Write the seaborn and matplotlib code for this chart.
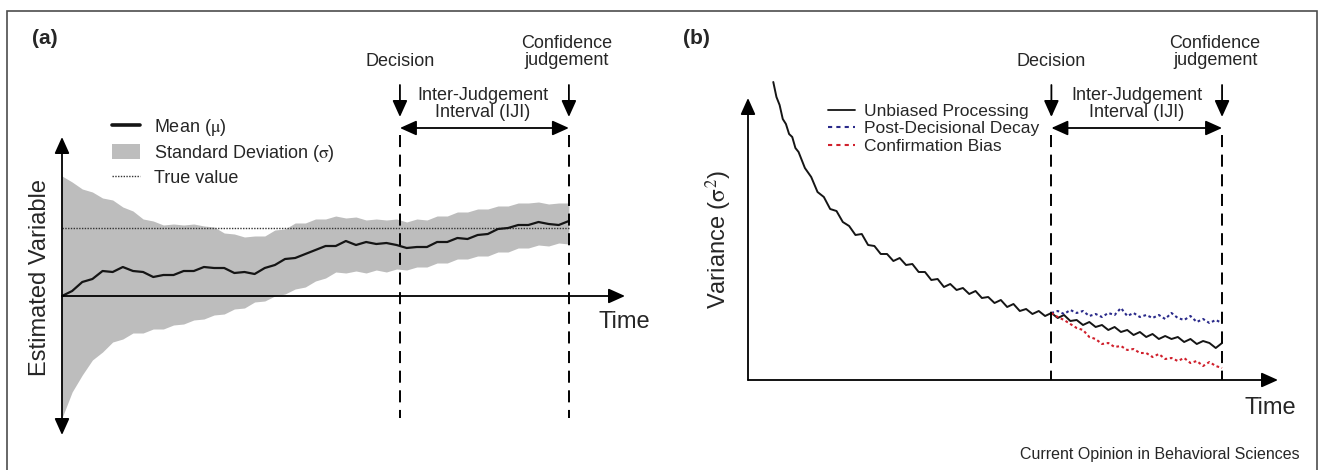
import matplotlib
matplotlib.use("Agg")
import matplotlib.pyplot as plt
import seaborn as sns
from matplotlib.lines import Line2D
from matplotlib.patches import Patch, Rectangle

# ------------------------------------------------------------
# data (arbitrary units)
# ------------------------------------------------------------
# panel (a): estimated variable over time
time_a = [0, 3, 6, 9, 12, 15, 18, 21, 24, 27, 30, 33, 36, 39, 42, 45, 48, 51, 54, 57,
          60, 63, 66, 69, 72, 75, 78, 81, 84, 87, 90, 93, 96, 99, 102, 105, 108, 111, 114, 117,
          120, 123, 126, 129, 132, 135, 138, 141, 144, 147, 150]
mean_a = [0, 5, 14, 17, 25, 24, 29, 25, 24, 19, 21, 21, 25, 25, 29, 28, 28, 23, 24, 22,
          28, 31, 37, 38, 42, 46, 50, 50, 55, 51, 54, 52, 53, 51, 48, 49, 49, 54, 54, 58,
          57, 61, 62, 67, 68, 71, 71, 74, 72, 71, 75]
upper_a = [120, 114, 107, 104, 98, 96, 89, 85, 77, 75, 71, 72, 71, 72, 70, 69, 63, 62, 59, 60,
           60, 66, 67, 73, 73, 77, 77, 80, 78, 79, 76, 77, 76, 77, 74, 77, 76, 80, 80, 84,
           84, 87, 87, 90, 90, 93, 93, 94, 92, 93, 93]
lower_a = [-122, -96, -79, -64, -56, -46, -43, -37, -37, -33, -33, -29, -28, -24, -23, -19, -18, -13, -12, -6,
           -5, 0, 2, 7, 9, 15, 18, 24, 23, 25, 23, 26, 24, 27, 26, 29, 29, 33, 33, 37,
           37, 40, 40, 44, 44, 48, 48, 51, 50, 53, 52]
true_value = 68
decision_a, confidence_a = 100, 150

# panel (b): variance over time
time_b = [8, 9, 10, 11, 12, 13, 14, 15, 16, 18, 20, 22, 24, 26, 28, 30, 32, 34, 36, 38,
          40, 42, 44, 46, 48, 50, 52, 54, 56, 58, 60, 62, 64, 66, 68, 70, 72, 74, 76, 78,
          80, 82, 84, 86, 88, 90, 92, 94, 96, 98, 100, 102, 104, 106, 108, 110, 112, 114, 116, 118,
          120, 122, 124, 126, 128, 130, 132, 134, 136, 138, 140, 142, 144, 146, 148, 150]
var_unbiased = [298, 283, 275, 261, 256, 246, 243, 232, 228, 212, 203, 188, 183, 171, 169, 158, 154, 145, 146, 135,
                134, 126, 126, 119, 122, 115, 116, 108, 108, 100, 101, 93, 96, 90, 92, 86, 89, 82, 83, 77,
                80, 73, 76, 69, 71, 66, 69, 64, 67, 62, 65, 59, 60, 55, 58, 53, 55, 50, 53, 48,
                50, 45, 48, 43, 46, 41, 44, 41, 43, 38, 41, 36, 39, 37, 32, 37]
time_post = [96, 98, 100, 102, 104, 106, 108, 110, 112, 114, 116, 118, 120, 122, 124, 126, 128, 130,
             132, 134, 136, 138, 140, 142, 144, 146, 148, 150]
var_decay = [67, 69, 66, 70, 67, 69, 64, 66, 63, 67, 65, 72, 64, 67, 63, 65, 62, 65,
             61, 67, 62, 60, 64, 58, 61, 57, 60, 57]
var_confirm = [67, 63, 60, 56, 52, 50, 43, 41, 36, 37, 33, 34, 30, 31, 27, 27, 23, 26,
               21, 22, 19, 22, 17, 19, 14, 18, 14, 12]
decision_b, confidence_b = 96, 150

# ------------------------------------------------------------
# styling
# ------------------------------------------------------------
sns.set_theme(style="white")
plt.rcParams['font.family'] = ['Liberation Sans', 'DejaVu Sans']
plt.rcParams['mathtext.fontset'] = 'stix'

W, H = 1319, 470
fig = plt.figure(figsize=(W / 100, H / 100), dpi=100)
fig.patch.set_facecolor('white')

# thin frame round the whole figure
fig.patches.append(Rectangle((7 / W, -0.02), 1310 / W, 1 - 11 / H + 0.02, transform=fig.transFigure,
                             fill=False, edgecolor='#4d4d4d', lw=1.2))

TXT = 13


def arrow(ax, start, end, style='-|>'):
    ax.annotate('', xy=end, xytext=start, annotation_clip=False,
                arrowprops=dict(arrowstyle=style + ',head_length=1.0,head_width=0.45',
                                color='black', lw=1.3, shrinkA=0, shrinkB=0,
                                mutation_scale=10))


def markers(ax, t_dec, t_conf, v_line_top, v_line_bot, v_arr_top, v_arr_tip, v_iji,
            v_dec_txt, v_conf_txt, v_iji_txt, t_conf_txt, t_iji_txt):
    dash = dict(color='black', lw=1.4, dashes=(6.2, 3.9), clip_on=False)
    ax.plot([t_dec, t_dec], [v_line_top, v_line_bot], **dash)
    ax.plot([t_conf, t_conf], [v_line_top, v_line_bot], **dash)
    arrow(ax, (t_dec, v_arr_top), (t_dec, v_arr_tip))
    arrow(ax, (t_conf, v_arr_top), (t_conf, v_arr_tip))
    arrow(ax, (t_dec, v_iji), (t_conf, v_iji), style='<|-|>')
    ax.text(t_dec, v_dec_txt, 'Decision', ha='center', va='center', fontsize=TXT)
    ax.text(t_conf_txt, v_conf_txt, 'Confidence\njudgement', ha='center', va='center',
            fontsize=TXT, linespacing=1.05)
    ax.text(t_iji_txt, v_iji_txt, 'Inter-Judgement\nInterval (IJI)', ha='center', va='center',
            fontsize=TXT, linespacing=1.05)


# ------------------------------------------------------------
# panel (a)   1 unit of time = 3.38 px, 1 unit of value = 1 px
# ------------------------------------------------------------
ax_a = fig.add_axes([62 / W, (H - 435) / H, 563 / W, 298 / H])
ax_a.set_xlim(0, 166.6)
ax_a.set_ylim(-139, 159)
ax_a.axis('off')

ax_a.fill_between(time_a, lower_a, upper_a, color='#bdbdbd', lw=0)
sns.lineplot(x=[0, confidence_a], y=[true_value, true_value], ax=ax_a, color='#333333',
             lw=1.0, linestyle=(0, (1, 1)))
sns.lineplot(x=time_a, y=mean_a, ax=ax_a, color='#151515', lw=1.6)

arrow(ax_a, (0, 0), (0, 159))
arrow(ax_a, (0, 0), (0, -139))
arrow(ax_a, (0, 0), (166.6, 0))
markers(ax_a, decision_a, confidence_a, 161, -122, 211, 179, 168,
        234, 244, 192, 149.4, 124.5)

ax_a.text(-8.9, 257, '(a)', ha='left', va='center', fontsize=15, fontweight='bold')
ax_a.text(-6.5, 19, 'Estimated Variable', rotation=90, ha='center', va='center', fontsize=17)
ax_a.text(166.3, -26, 'Time', ha='center', va='center', fontsize=17)

handles_a = [Line2D([], [], color='#151515', lw=2.6),
             Patch(facecolor='#bdbdbd', edgecolor='none'),
             Line2D([], [], color='#333333', lw=1.0, linestyle=(0, (1, 1)))]
labels_a = [r'Mean ($\mathrm{\mu}$)', r'Standard Deviation ($\mathrm{\sigma}$)', 'True value']
ax_a.legend(handles_a, labels_a, loc='upper left', bbox_to_anchor=(112 / W, 1 - 117 / H),
            bbox_transform=fig.transFigure, frameon=False, fontsize=TXT, borderpad=0,
            borderaxespad=0, handlelength=1.55, handleheight=0.9, handletextpad=0.75,
            labelspacing=0.28)

# ------------------------------------------------------------
# panel (b)   1 unit of time = 3.16 px, 1 unit of variance = 1 px
# ------------------------------------------------------------
ax_b = fig.add_axes([748 / W, (H - 380) / H, 530 / W, 340 / H])
ax_b.set_xlim(0, 167.7)
ax_b.set_ylim(0, 340)
ax_b.axis('off')

sns.lineplot(x=time_b, y=var_unbiased, ax=ax_b, color='#151515', lw=1.4)
sns.lineplot(x=time_post, y=var_decay, ax=ax_b, color='#2a2a8a', lw=1.5, linestyle=(0, (1.3, 1.3)))
sns.lineplot(x=time_post, y=var_confirm, ax=ax_b, color='#d0202c', lw=1.5, linestyle=(0, (1.3, 1.3)))

arrow(ax_b, (0, 0), (0, 282))
arrow(ax_b, (0, 0), (167.7, 0))
markers(ax_b, decision_b, confidence_b, 245, 0, 295, 263, 252,
        318, 328, 276, 147.8, 123.1)

ax_b.text(-20.6, 341, '(b)', ha='left', va='center', fontsize=15, fontweight='bold')
ax_b.text(-9.2, 140, r'Variance ($\mathrm{\sigma}^2$)', rotation=90, ha='center', va='center',
          fontsize=17)
ax_b.text(165.2, -28, 'Time', ha='center', va='center', fontsize=17)

handles_b = [Line2D([], [], color='#151515', lw=1.3),
             Line2D([], [], color='#2a2a8a', lw=1.5, linestyle=(0, (2, 2))),
             Line2D([], [], color='#d0202c', lw=1.5, linestyle=(0, (2, 2)))]
labels_b = ['Unbiased Processing', 'Post-Decisional Decay', 'Confirmation Bias']
ax_b.legend(handles_b, labels_b, loc='upper left', bbox_to_anchor=(828 / W, 1 - 104 / H),
            bbox_transform=fig.transFigure, frameon=False, fontsize=12.5, borderpad=0,
            borderaxespad=0, handlelength=1.55, handletextpad=0.55, labelspacing=0.12)

fig.text(1300 / W, 1 - 455 / H, 'Current Opinion in Behavioral Sciences', ha='right', va='center',
         fontsize=11.5)

fig.savefig('out.png', dpi=100, facecolor='white')
